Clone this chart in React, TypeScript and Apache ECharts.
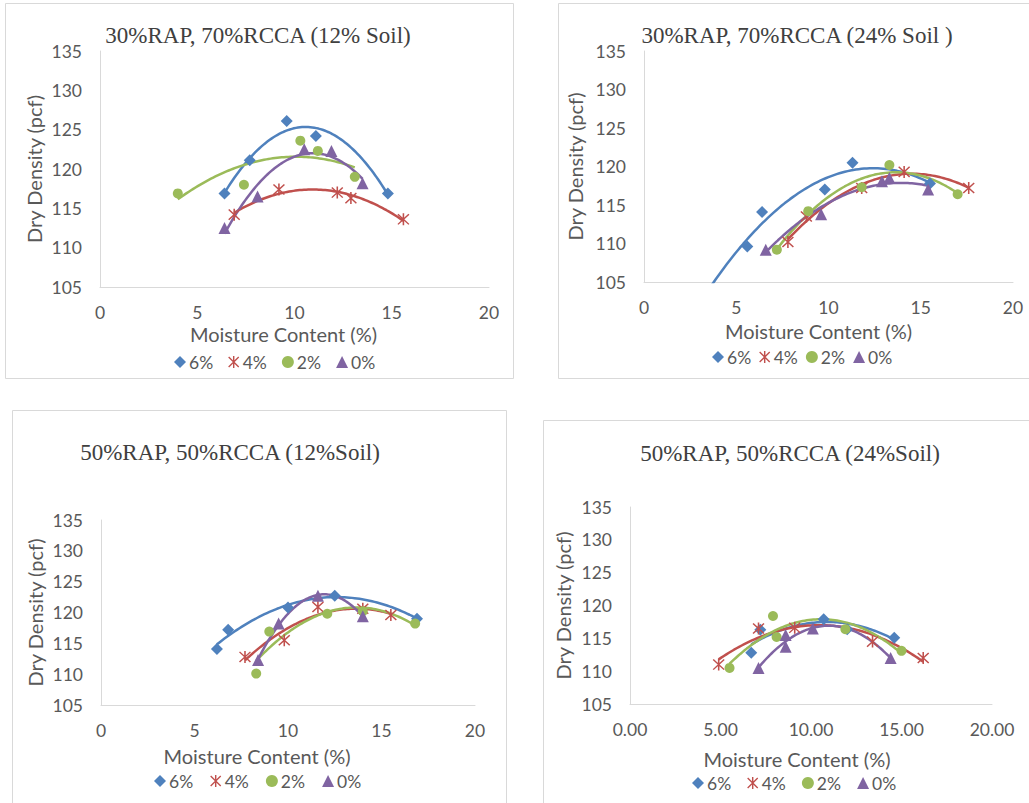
import React, { useEffect, useRef } from "react";
import * as echarts from "echarts";

// ---------- data ----------
const SERIES_NAMES = ["6%", "4%", "2%", "0%"];
const COLORS = ["#4F81BD", "#C0504D", "#9BBB59", "#8064A2"];
const PANEL_TITLES = [
  "30%RAP, 70%RCCA (12% Soil)",
  "30%RAP, 70%RCCA (24% Soil )",
  "50%RAP, 50%RCCA (12%Soil)",
  "50%RAP, 50%RCCA (24%Soil)",
];
const X_TITLE = "Moisture Content (%)";
const Y_TITLE = "Dry Density (pcf)";
const X_MIN = 0, X_MAX = 20, X_STEP = 5;
const Y_MIN = 105, Y_MAX = 135, Y_STEP = 5;

// panel 1: 30%RAP 70%RCCA 12% soil
const p1_6 = [[6.4, 116.9], [7.7, 121.1], [9.6, 126.1], [11.1, 124.2], [14.8, 116.9]];
const p1_4 = [[6.9, 114.2], [9.2, 117.4], [12.2, 117.0], [12.9, 116.3], [15.6, 113.6]];
const p1_2 = [[4.0, 116.9], [7.4, 118.0], [10.3, 123.6], [11.2, 122.3], [13.1, 119.0]];
const p1_0 = [[6.4, 112.5], [8.1, 116.5], [10.5, 122.5], [11.9, 122.3], [13.5, 118.2]];
// panel 2: 30%RAP 70%RCCA 24% soil
const p2_6 = [[5.6, 109.6], [6.4, 114.1], [9.8, 117.0], [11.3, 120.5], [15.5, 117.8]];
const p2_4 = [[7.8, 110.2], [8.8, 113.5], [11.8, 117.2], [14.1, 119.3], [17.6, 117.2]];
const p2_2 = [[7.2, 109.2], [8.9, 114.2], [11.8, 117.3], [13.3, 120.2], [17.0, 116.4]];
const p2_0 = [[6.6, 109.2], [9.6, 113.8], [12.9, 118.1], [13.3, 118.5], [15.4, 117.0]];
// panel 3: 50%RAP 50%RCCA 12% soil
const p3_6 = [[6.2, 114.1], [6.8, 117.2], [10.0, 120.8], [12.5, 122.7], [16.9, 119.0]];
const p3_4 = [[7.7, 112.8], [9.8, 115.5], [11.6, 120.9], [14.0, 120.6], [15.5, 119.6]];
const p3_2 = [[8.3, 110.1], [9.0, 116.9], [12.1, 119.8], [14.0, 120.2], [16.8, 118.2]];
const p3_0 = [[8.4, 112.3], [9.5, 118.2], [11.6, 122.7], [14.0, 119.4]];
// panel 4: 50%RAP 50%RCCA 24% soil
const p4_6 = [[6.7, 112.8], [7.2, 116.3], [10.7, 117.9], [12.0, 116.4], [14.6, 115.1]];
const p4_4 = [[4.9, 111.0], [7.1, 116.5], [9.1, 116.6], [13.4, 114.5], [16.2, 112.0]];
const p4_2 = [[5.5, 110.5], [7.9, 118.4], [8.1, 115.2], [11.9, 116.4], [15.0, 113.1]];
const p4_0 = [[7.1, 110.5], [8.6, 113.7], [8.6, 115.5], [10.1, 116.5], [14.4, 112.0]];

const PANEL_DATA = [
  [p1_6, p1_4, p1_2, p1_0],
  [p2_6, p2_4, p2_2, p2_0],
  [p3_6, p3_4, p3_2, p3_0],
  [p4_6, p4_4, p4_2, p4_0],
];
// backward forecast of each trendline (in x units)
const TREND_BACKWARD = [
  [0, 0, 0, 0],
  [2, 0, 0, 0],
  [0, 0, 0, 0],
  [0, 0, 0, 0],
];

// ---------- layout ----------
const FONT = "Lato, 'Liberation Sans', sans-serif";
const SERIF = "'Liberation Serif', 'Times New Roman', serif";
const GRIDS = [
  { left: 100, top: 51, width: 389, height: 236 },
  { left: 644, top: 51, width: 369, height: 231 },
  { left: 101, top: 520, width: 374, height: 185 },
  { left: 630, top: 507, width: 362, height: 197 },
];
const BORDERS = [
  { x: 5.5, y: 3.5, width: 508, height: 375 },
  { x: 558.5, y: 3.5, width: 480, height: 375 },
  { x: 12.5, y: 410.5, width: 494, height: 400 },
  { x: 543.5, y: 420.5, width: 500, height: 400 },
];
const TITLE_POS = [
  [258, 35],
  [797, 35],
  [230, 452],
  [790, 453],
];
const LEGENDS = [
  { left: 174, top: 353, gap: 15 },
  { left: 712, top: 348, gap: 8 },
  { left: 154, top: 772, gap: 17 },
  { left: 692, top: 774, gap: 16 },
];
const XNAME_SHIFT = [22, 20, 62, 28];
const XNAME_GAP = [37, 39, 41, 45];
const YNAME_GAP = [56, 59, 56, 57];
const XDEC = [0, 0, 0, 2];

const STAR =
  "path://M4.4,0L5.6,0L5.6,10L4.4,10Z M0.4,1.2L1.2,0.4L9.6,8.8L8.8,9.6Z M8.8,0.4L9.6,1.2L1.2,9.6L0.4,8.8Z";
const SYMBOLS = ["diamond", STAR, "circle", "triangle"];
const SYMBOL_SIZES = [12, 12, 10, 12];

function quadFit(pts: number[][]) {
  // least squares y = a + b x + c x^2
  let n = 0, sx = 0, sx2 = 0, sx3 = 0, sx4 = 0, sy = 0, sxy = 0, sx2y = 0;
  for (const [x, y] of pts) {
    n++; sx += x; sx2 += x * x; sx3 += x * x * x; sx4 += x * x * x * x;
    sy += y; sxy += x * y; sx2y += x * x * y;
  }
  const M = [
    [n, sx, sx2, sy],
    [sx, sx2, sx3, sxy],
    [sx2, sx3, sx4, sx2y],
  ];
  for (let i = 0; i < 3; i++) {
    let p = i;
    for (let r = i + 1; r < 3; r++) if (Math.abs(M[r][i]) > Math.abs(M[p][i])) p = r;
    [M[i], M[p]] = [M[p], M[i]];
    for (let r = 0; r < 3; r++) {
      if (r === i) continue;
      const f = M[r][i] / M[i][i];
      for (let c = i; c < 4; c++) M[r][c] -= f * M[i][c];
    }
  }
  return [M[0][3] / M[0][0], M[1][3] / M[1][1], M[2][3] / M[2][2]];
}

function trendPoints(pts: number[][], back: number) {
  const [a, b, c] = quadFit(pts);
  const xs = pts.map((p) => p[0]);
  const x0 = Math.min(...xs) - back;
  const x1 = Math.max(...xs);
  const out: number[][] = [];
  const N = 80;
  for (let i = 0; i <= N; i++) {
    const x = x0 + ((x1 - x0) * i) / N;
    out.push([x, a + b * x + c * x * x]);
  }
  return out;
}

function buildOption() {
  const xAxis: any[] = [];
  const yAxis: any[] = [];
  const series: any[] = [];
  const legend: any[] = [];
  const graphic: any[] = [];

  GRIDS.forEach((g, p) => {
    xAxis.push({
      type: "value",
      gridIndex: p,
      min: X_MIN,
      max: X_MAX,
      interval: X_STEP,
      axisLine: { show: true, onZero: false, lineStyle: { color: "#d9d9d9", width: 1 } },
      axisTick: { show: false },
      splitLine: { show: false },
      axisLabel: {
        color: "#595959",
        fontSize: 17.5,
        fontFamily: FONT,
        margin: 16,
        formatter: (v: number) => v.toFixed(XDEC[p]),
      },
      name: X_TITLE,
      nameLocation: "middle",
      nameGap: XNAME_GAP[p],
      nameTextStyle: {
        color: "#595959",
        fontSize: 20,
        fontFamily: FONT,
        padding: [0, XNAME_SHIFT[p], 0, 0],
      },
    });
    yAxis.push({
      type: "value",
      gridIndex: p,
      min: Y_MIN,
      max: Y_MAX,
      interval: Y_STEP,
      axisLine: { show: true, onZero: false, lineStyle: { color: "#d9d9d9", width: 1 } },
      axisTick: { show: false },
      splitLine: { show: false },
      axisLabel: { color: "#595959", fontSize: 17.5, fontFamily: FONT, margin: 18 },
      name: Y_TITLE,
      nameLocation: "middle",
      nameGap: YNAME_GAP[p],
      nameTextStyle: { color: "#595959", fontSize: 20, fontFamily: FONT },
    });

    PANEL_DATA[p].forEach((pts, s) => {
      series.push({
        type: "line",
        name: SERIES_NAMES[s] + " trend",
        xAxisIndex: p,
        yAxisIndex: p,
        data: trendPoints(pts, TREND_BACKWARD[p][s]),
        showSymbol: false,
        symbol: "none",
        clip: true,
        silent: true,
        lineStyle: { color: COLORS[s], width: 2.5 },
        z: 2,
      });
    });
    PANEL_DATA[p].forEach((pts, s) => {
      series.push({
        type: "scatter",
        name: SERIES_NAMES[s],
        xAxisIndex: p,
        yAxisIndex: p,
        data: pts,
        symbol: SYMBOLS[s],
        symbolSize: SYMBOL_SIZES[s],
        itemStyle: { color: COLORS[s], opacity: 1 },
        z: 3,
      });
    });

    const L = LEGENDS[p];
    legend.push({
      left: L.left,
      top: L.top,
      orient: "horizontal",
      padding: 0,
      itemGap: L.gap,
      itemWidth: 12,
      itemHeight: 12,
      textStyle: { color: "#595959", fontSize: 17.5, fontFamily: FONT, padding: [0, 0, 0, -2] },
      data: SERIES_NAMES.map((n, s) => ({ name: n, icon: SYMBOLS[s] })),
    });

    const B = BORDERS[p];
    graphic.push({
      type: "rect",
      shape: { x: B.x, y: B.y, width: B.width, height: B.height },
      style: { fill: "none", stroke: "#d9d9d9", lineWidth: 1 },
      z: 0,
      silent: true,
    });
    graphic.push({
      type: "text",
      x: TITLE_POS[p][0],
      y: TITLE_POS[p][1],
      style: {
        text: PANEL_TITLES[p],
        fontFamily: SERIF,
        fontSize: 23,
        fill: "#404040",
        textAlign: "center",
        textVerticalAlign: "middle",
      },
      z: 10,
    });
  });

  return {
    animation: false,
    backgroundColor: "#ffffff",
    grid: GRIDS.map((g) => ({ ...g, containLabel: false })),
    xAxis,
    yAxis,
    legend,
    graphic,
    series,
  };
}

export default function App() {
  const ref = useRef<HTMLDivElement>(null);
  useEffect(() => {
    if (!ref.current) return;
    const chart = echarts.init(ref.current, undefined, { renderer: "svg" });
    chart.setOption(buildOption() as any);
    return () => chart.dispose();
  }, []);
  return (
    <div
      ref={ref}
      style={{ position: "fixed", left: 0, top: 0, width: 1029, height: 803, background: "#fff" }}
    />
  );
}
